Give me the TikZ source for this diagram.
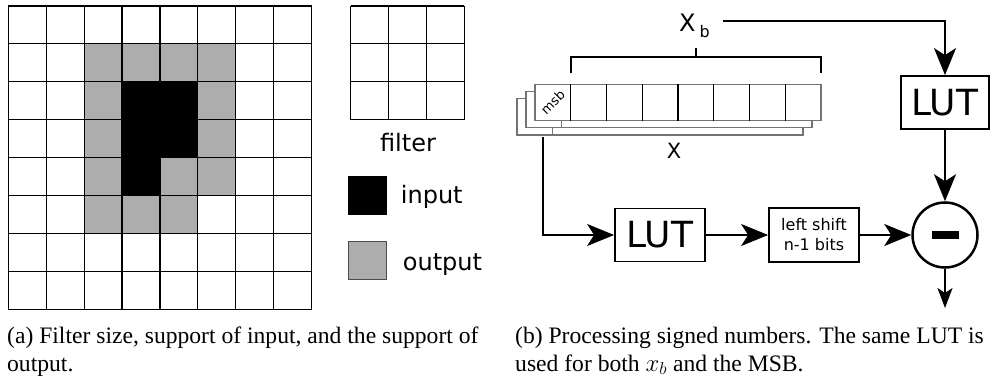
\documentclass[tikz,border=0pt]{standalone}
\usepackage{fontspec}
\setmainfont{Liberation Serif}
\newfontfamily\diagfont{DejaVu Sans}
\usetikzlibrary{arrows.meta,calc,positioning}

\definecolor{outgray}{gray}{0.68}
\tikzset{
  gridline/.style={draw=black,line width=1.2pt},
  reg/.style={draw=black!55,line width=1.2pt,fill=white},
  box/.style={draw,line width=1.8pt,fill=white,inner sep=0pt,
    font=\diagfont\fontsize{36}{36}\selectfont},
  flow/.style={line width=2pt,-{Stealth[length=27pt,width=22pt,inset=7pt]}},
  lbl/.style={inner sep=0pt,font=\diagfont\fontsize{24}{24}\selectfont},
  captxt/.style={inner sep=0pt,anchor=base west,font=\fontsize{23.6}{28}\selectfont},
}

\begin{document}
\begin{tikzpicture}[x=1pt,y=-1pt]
\useasboundingbox (0,0) rectangle (990,379);
% support grid
\foreach \c/\r in {2/1,3/1,4/1,5/1,2/2,5/2,2/3,5/3,2/4,4/4,5/4,2/5,3/5,4/5}
  \fill[outgray] (8.3+\c*37.9,6+\r*37.9) rectangle ++(37.9,37.9);
\foreach \c/\r in {3/2,4/2,3/3,4/3,3/4}
  \fill[black] (8.3+\c*37.9,6+\r*37.9) rectangle ++(37.9,37.9);
\foreach \i in {0,...,8} {
  \draw[gridline] (8.3+\i*37.9,6) -- (8.3+\i*37.9,309.2);
  \draw[gridline] (8.3,6+\i*37.9) -- (311.5,6+\i*37.9);
}
% filter
\foreach \i in {0,...,3} {
  \draw[gridline] (350.7+\i*37.9,6) -- (350.7+\i*37.9,119.7);
  \draw[gridline] (350.7,6+\i*37.9) -- (464.4,6+\i*37.9);
}
\node[lbl,anchor=base] (filterlbl) at (408,151.7) {filter};
% legend
\node[draw=black,fill=black,minimum size=38pt,inner sep=0pt] (insq) at (367.5,195) {};
\node[draw=black!70,line width=1pt,fill=outgray,minimum size=38pt,inner sep=0pt] (outsq) at (367.5,261) {};
\node[lbl,anchor=base west] (inlbl) at (400.7,204) {input};
\node[lbl,anchor=base west] (outlbl) at (402.7,270) {output};

% registers
\foreach \d in {2,1} {
  \draw[reg] (535-9*\d,84.3+7.2*\d) rectangle ++(286,36.4);
  \draw[reg] (535-9*\d+35.75,84.3+7.2*\d) -- ++(0,36.4);
}
\draw[reg] (535,84.3) rectangle (821,120.7);
\foreach \k in {1,...,7}
  \draw[line width=1.2pt] (535+\k*35.75,84.3) -- ++(0,36.4);
\node[inner sep=0pt,rotate=45,font=\diagfont\fontsize{13}{13}\selectfont] (msb) at (552.8,102.5) {msb};
\node[inner sep=0pt,anchor=base,font=\diagfont\fontsize{21}{21}\selectfont] (xlbl) at (674,158.3) {X};
% bracket
\draw[line width=2pt] (570.7,73.3) -- (570.7,57.3) -- (821,57.3) -- (821,73.3);
\draw[line width=2pt] (696,57.3) -- (696,47.7);
\node[lbl,anchor=base west] (xb) at (679,31.7) {X\kern4pt\raisebox{-6.3pt}{\fontsize{16}{16}\selectfont b}};

% datapath
\coordinate (xbout) at (722.7,20.7);
\coordinate (regout) at (543.3,137);
\coordinate (subout) at (945,308);
\node[box,minimum width=88pt,minimum height=53pt] (lutb) at (945,102.5) {LUT};
\node[box,minimum width=90pt,minimum height=53pt] (lutm) at (660,235) {LUT};
\node[draw,line width=1.8pt,inner sep=0pt,minimum width=90pt,minimum height=54pt,align=center,
  font=\diagfont\fontsize{16}{20}\selectfont] (shift) at (814,235) {left shift\\n-1 bits};
\node[circle,draw,line width=2.5pt,minimum size=65pt,inner sep=0pt] (sub) at (945,235) {};
\fill (sub.center) ++(-13.5,-4) rectangle ++(27,8);

\draw[flow] (xbout) -| (lutb);
\draw[flow] (lutb) -- (sub);
\draw[flow] (regout) |- (lutm);
\draw[flow] (lutm) -- (shift);
\draw[flow] (shift) -- (sub);
\draw[line width=2pt,-{Stealth[length=20pt,width=15pt,inset=5pt]}] (sub) -- (subout);

% captions
\node[captxt] (capa1) at (7,343) {(a) Filter size, support of input, and the support of};
\node[captxt] (capa2) at (7,371) {output.};
\node[captxt] (capb1) at (515,343) {(b) Processing signed numbers. The same LUT is};
\node[captxt] (capb2) at (515,371) {used for both $x_b$ and the MSB.};
\end{tikzpicture}
\end{document}
